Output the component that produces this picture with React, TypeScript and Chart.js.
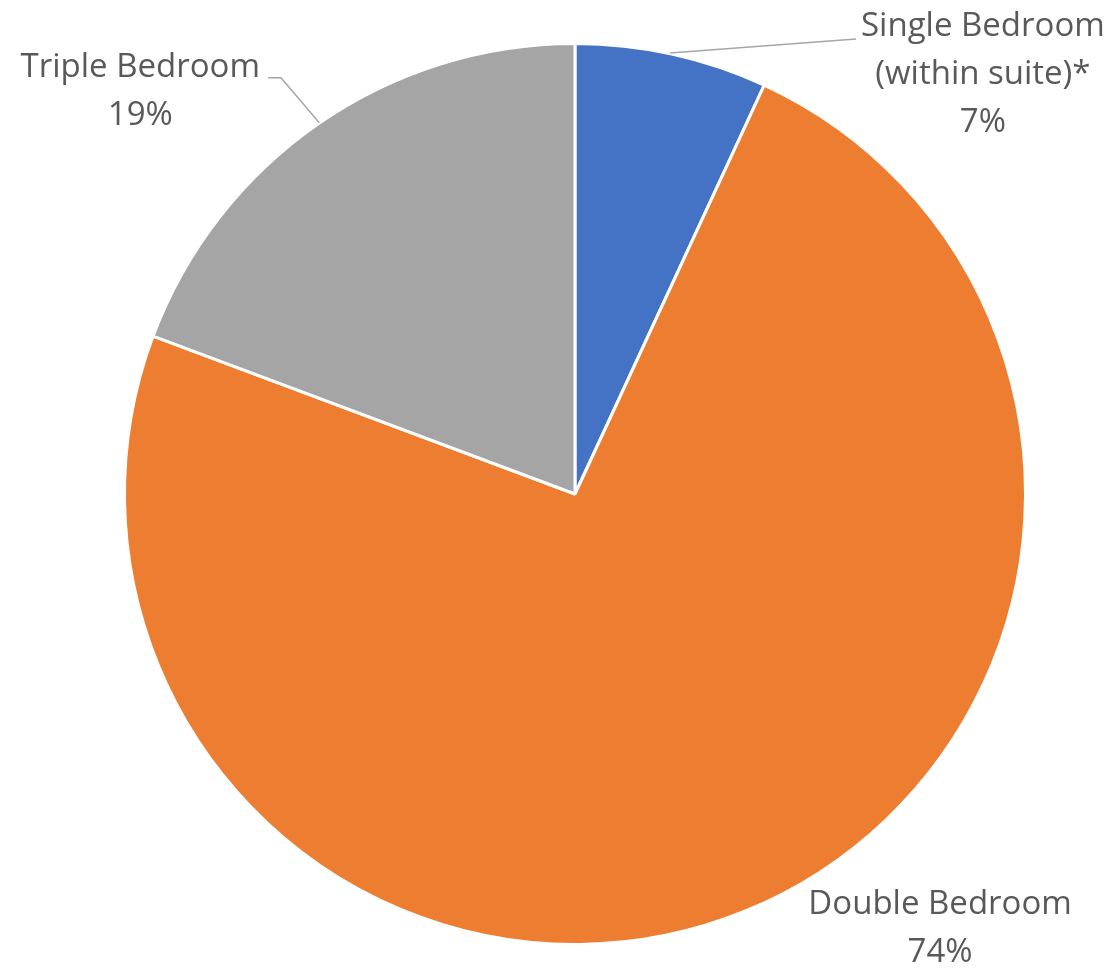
import React, { useEffect, useRef } from "react";
import { Chart, registerables } from "chart.js";

Chart.register(...registerables);

const categories = ["Single Bedroom\n(within suite)*", "Double Bedroom", "Triple Bedroom"];
const values = [6.9, 73.8, 19.3];
const percentLabels = ["7%", "74%", "19%"];
const colors = ["#4472C4", "#ED7D31", "#A5A5A5"];

// label block centre offsets from the slice's outer mid-point, and leader style
const labelOffsets: [number, number][] = [
  [311, 21],
  [194, 18],
  [-178, -32],
];
const leaderTypes = ["right", "none", "left"];

const FONT = "33px 'Open Sans', Lato, sans-serif";
const LINE_H = 48;
const TEXT_COLOR = "#595959";

const labelPlugin = {
  id: "outerLabels",
  afterDraw(chart: any) {
    const ctx = chart.ctx;
    const meta = chart.getDatasetMeta(0);
    ctx.save();
    ctx.font = FONT;
    ctx.fillStyle = TEXT_COLOR;
    ctx.textAlign = "center";
    ctx.textBaseline = "middle";
    meta.data.forEach((arc: any, i: number) => {
      const { x, y, startAngle, endAngle, outerRadius } = arc.getProps(
        ["x", "y", "startAngle", "endAngle", "outerRadius"],
        true
      );
      const mid = (startAngle + endAngle) / 2;
      const ex = x + Math.cos(mid) * outerRadius;
      const ey = y + Math.sin(mid) * outerRadius;
      const lines = categories[i].split("\n").concat([percentLabels[i]]);
      const cx = ex + labelOffsets[i][0];
      const cy = ey + labelOffsets[i][1];
      const top = cy - ((lines.length - 1) * LINE_H) / 2;
      let maxW = 0;
      lines.forEach((l) => (maxW = Math.max(maxW, ctx.measureText(l).width)));
      lines.forEach((l, k) => ctx.fillText(l, cx, top + k * LINE_H));
      ctx.strokeStyle = "#A6A6A6";
      ctx.lineWidth = 1.5;
      if (leaderTypes[i] === "right") {
        ctx.beginPath();
        ctx.moveTo(ex - 2, ey - 1);
        ctx.lineTo(cx - maxW / 2 - 5, top + 12);
        ctx.stroke();
      } else if (leaderTypes[i] === "left") {
        const lx = cx + maxW / 2;
        ctx.beginPath();
        ctx.moveTo(ex + 1, ey - 1);
        ctx.lineTo(lx + 21, top + 10);
        ctx.lineTo(lx + 8, top + 10);
        ctx.stroke();
      }
    });
    ctx.restore();
  },
};

export default function App() {
  const ref = useRef<HTMLCanvasElement | null>(null);
  useEffect(() => {
    if (!ref.current) return;
    const chart = new Chart(ref.current, {
      type: "pie",
      data: {
        labels: categories.map((c) => c.replace("\n", " ")),
        datasets: [
          {
            data: values,
            backgroundColor: colors,
            borderColor: "#FFFFFF",
            borderWidth: 3,
          },
        ],
      },
      options: {
        animation: false,
        responsive: false,
        layout: { padding: { left: 123, right: 88, top: 42, bottom: 25 } },
        plugins: {
          legend: { display: false },
          tooltip: { enabled: false },
        },
      },
      plugins: [labelPlugin],
    });
    return () => chart.destroy();
  }, []);
  return (
    <div style={{ position: "fixed", left: 0, top: 0, width: 1115, height: 971, background: "#fff" }}>
      <canvas ref={ref} width={1115} height={971} style={{ width: 1115, height: 971 }} />
    </div>
  );
}
